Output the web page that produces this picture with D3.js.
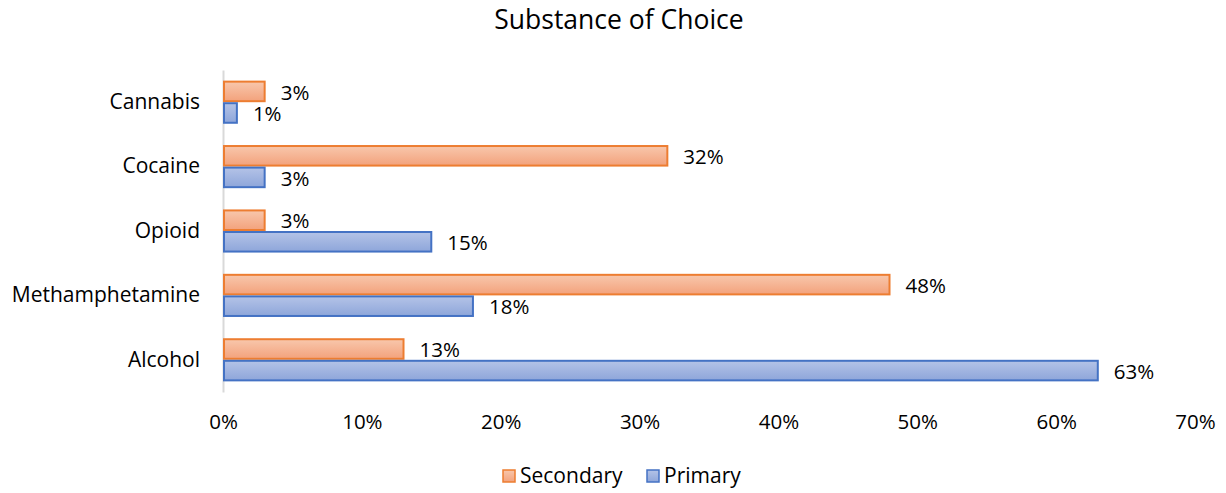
<!DOCTYPE html>
<html>
<head>
<meta charset="utf-8">
<script src="https://cdn.jsdelivr.net/npm/d3@7"></script>
<style>
  body { margin: 0; background: #fff; }
  text { font-family: "Open Sans", sans-serif; fill: #000; }
</style>
</head>
<body>
<div id="chart"></div>
<script>
const svgWidth = 1226
const svgHeight = 493

const categories = ["Cannabis", "Cocaine", "Opioid", "Methamphetamine", "Alcohol"]
const secondary = [3, 32, 3, 48, 13]
const primary = [1, 3, 15, 18, 63]
const seriesNames = ["Secondary", "Primary"]
const xTicks = [0, 10, 20, 30, 40, 50, 60, 70]

let margin = { top: 70, right: 31, bottom: 101, left: 223 }
let width = svgWidth - margin.left - margin.right
let height = svgHeight - margin.top - margin.bottom

let svg = d3.select("#chart").append("svg")
  .attr("width", svgWidth)
  .attr("height", svgHeight)

let defs = svg.append("defs")
function gradient(id, top, bottom) {
  let g = defs.append("linearGradient").attr("id", id)
    .attr("x1", 0).attr("y1", 0).attr("x2", 0).attr("y2", 1)
  g.append("stop").attr("offset", "0%").attr("stop-color", top)
  g.append("stop").attr("offset", "100%").attr("stop-color", bottom)
}
gradient("gradOrange", "#f8c7ac", "#f3a27c")
gradient("gradBlue", "#b4c3e7", "#8ea6da")

const styles = {
  Secondary: { fill: "url(#gradOrange)", stroke: "#ed7d31" },
  Primary: { fill: "url(#gradBlue)", stroke: "#4472c4" }
}

let chartGroup = svg.append("g")
  .attr("transform", `translate(${margin.left}, ${margin.top})`)

let x = d3.scaleLinear().domain([0, 70]).range([0, width])
let y = d3.scaleBand().domain(categories).range([0, height]).paddingInner(0.33).paddingOuter(0.165)
let sub = d3.scaleBand().domain(seriesNames).range([0, y.bandwidth()])

// title
svg.append("text")
  .attr("x", 619).attr("y", 29)
  .attr("text-anchor", "middle")
  .style("font-size", "26.5px")
  .text("Substance of Choice")

// x axis labels (no line)
let xAxis = chartGroup.append("g")
  .attr("transform", `translate(0, ${height})`)
  .call(d3.axisBottom(x).tickValues(xTicks).tickFormat(d => d + "%").tickSize(0).tickPadding(22))
xAxis.select(".domain").remove()
xAxis.selectAll("text").style("font-size", "20.5px").style("font-family", "'Open Sans', sans-serif")

// y axis
let yAxis = chartGroup.append("g")
  .call(d3.axisLeft(y).tickSize(0).tickPadding(23))
yAxis.select(".domain").attr("stroke", "#d9d9d9").attr("stroke-width", 2)
yAxis.selectAll("text").style("font-size", "21px").style("font-family", "'Open Sans', sans-serif")

let rows = categories.map((c, i) => ({ cat: c, values: [
  { name: "Secondary", value: secondary[i] },
  { name: "Primary", value: primary[i] }
] }))

let groups = chartGroup.selectAll(".row")
  .data(rows)
  .enter().append("g")
  .attr("transform", d => `translate(0, ${y(d.cat)})`)

groups.selectAll("rect")
  .data(d => d.values)
  .enter().append("rect")
  .attr("x", 1)
  .attr("y", d => sub(d.name) + 1)
  .attr("width", d => Math.max(0, x(d.value) - 1))
  .attr("height", sub.bandwidth() - 2)
  .attr("fill", d => styles[d.name].fill)
  .attr("stroke", d => styles[d.name].stroke)
  .attr("stroke-width", 2)

groups.selectAll(".lbl")
  .data(d => d.values)
  .enter().append("text")
  .attr("x", d => x(d.value) + 16)
  .attr("y", d => sub(d.name) + sub.bandwidth() / 2 + 1)
  .attr("dy", "0.35em")
  .style("font-size", "20.5px")
  .text(d => d.value + "%")

// legend
let legend = svg.append("g").attr("transform", "translate(502, 476)")
let legendX = [0, 144]
seriesNames.forEach((name, i) => {
  let item = legend.append("g").attr("transform", `translate(${legendX[i]}, 0)`)
  item.append("rect")
    .attr("x", 1).attr("y", -6).attr("width", 12).attr("height", 12)
    .attr("fill", styles[name].fill)
    .attr("stroke", styles[name].stroke)
    .attr("stroke-width", 1.5)
  item.append("text")
    .attr("x", 18).attr("y", 0).attr("dy", "0.35em")
    .style("font-size", "21px")
    .text(name)
})
</script>
</body>
</html>
